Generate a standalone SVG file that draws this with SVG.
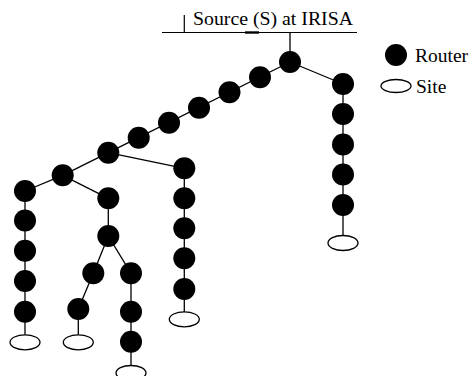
<svg xmlns="http://www.w3.org/2000/svg" width="474" height="376" viewBox="0 0 474 376">
<style>
.r{fill:#000}
.s{fill:#fff;stroke:#000;stroke-width:1.3}
.c line{stroke:#000;stroke-width:1.3}
.t{font-family:"Liberation Serif","Times New Roman",serif;font-size:19.5px;fill:#000}
</style>
<rect width="474" height="376" fill="#fff"/>
<g id="source">
<line x1="162" y1="32.5" x2="357" y2="32.5" stroke="#000" stroke-width="1.2"/>
<line x1="184.3" y1="15" x2="184.3" y2="32.5" stroke="#000" stroke-width="1.2"/>
<line x1="245" y1="32.5" x2="259" y2="32.5" stroke="#000" stroke-width="2.4"/>
<text class="t" x="193" y="25" textLength="160" lengthAdjust="spacingAndGlyphs">Source (S) at IRISA</text>
</g>
<g id="connectors" class="c">
<line x1="290" y1="32.5" x2="290" y2="62"/>
<line x1="290" y1="62" x2="343" y2="84"/>
<line x1="343" y1="84" x2="343" y2="243"/>
<line x1="290" y1="62" x2="108.3" y2="152.7"/>
<line x1="108.3" y1="152.7" x2="184.3" y2="168.3"/>
<line x1="184.3" y1="168.3" x2="184.3" y2="319.3"/>
<line x1="108.3" y1="152.7" x2="62.7" y2="175.3"/>
<line x1="62.7" y1="175.3" x2="25" y2="191"/>
<line x1="25" y1="191" x2="25" y2="342.3"/>
<line x1="62.7" y1="175.3" x2="108.3" y2="198.3"/>
<line x1="108.3" y1="198.3" x2="108.3" y2="236"/>
<line x1="108.3" y1="236" x2="93.3" y2="273.3"/>
<line x1="93.3" y1="273.3" x2="78.3" y2="309"/>
<line x1="78.3" y1="309" x2="78.3" y2="342.3"/>
<line x1="108.3" y1="236" x2="131" y2="273.3"/>
<line x1="131" y1="273.3" x2="131" y2="373"/>
</g>
<g id="n0"><circle class="r" cx="290" cy="62" r="11"/></g>
<g id="r1"><circle class="r" cx="343" cy="84" r="11"/></g>
<g id="r2"><circle class="r" cx="343" cy="114" r="11"/></g>
<g id="r3"><circle class="r" cx="343" cy="144.5" r="11"/></g>
<g id="r4"><circle class="r" cx="343" cy="174.5" r="11"/></g>
<g id="r5"><circle class="r" cx="343" cy="205" r="11"/></g>
<g id="siteR"><ellipse class="s" cx="343" cy="243" rx="15" ry="7.5"/></g>
<g id="d1"><circle class="r" cx="260" cy="77.3" r="11"/></g>
<g id="d2"><circle class="r" cx="229.5" cy="92.3" r="11"/></g>
<g id="d3"><circle class="r" cx="199" cy="107.7" r="11"/></g>
<g id="d4"><circle class="r" cx="169" cy="122.7" r="11"/></g>
<g id="d5"><circle class="r" cx="138.7" cy="137.7" r="11"/></g>
<g id="d6"><circle class="r" cx="108.3" cy="152.7" r="11"/></g>
<g id="m1"><circle class="r" cx="184.3" cy="168.3" r="11"/></g>
<g id="m2"><circle class="r" cx="184.3" cy="198.3" r="11"/></g>
<g id="m3"><circle class="r" cx="184.3" cy="228.3" r="11"/></g>
<g id="m4"><circle class="r" cx="184.3" cy="258.3" r="11"/></g>
<g id="m5"><circle class="r" cx="184.3" cy="289" r="11"/></g>
<g id="siteM"><ellipse class="s" cx="184.3" cy="319.3" rx="15" ry="7.5"/></g>
<g id="a"><circle class="r" cx="62.7" cy="175.3" r="11"/></g>
<g id="L1"><circle class="r" cx="25" cy="191" r="11"/></g>
<g id="L2"><circle class="r" cx="25" cy="220.5" r="11"/></g>
<g id="L3"><circle class="r" cx="25" cy="250.7" r="11"/></g>
<g id="L4"><circle class="r" cx="25" cy="281" r="11"/></g>
<g id="L5"><circle class="r" cx="25" cy="311.7" r="11"/></g>
<g id="siteL"><ellipse class="s" cx="25" cy="342.3" rx="15" ry="7.5"/></g>
<g id="b1"><circle class="r" cx="108.3" cy="198.3" r="11"/></g>
<g id="b2"><circle class="r" cx="108.3" cy="236" r="11"/></g>
<g id="c1"><circle class="r" cx="93.3" cy="273.3" r="11"/></g>
<g id="c2"><circle class="r" cx="78.3" cy="309" r="11"/></g>
<g id="siteC"><ellipse class="s" cx="78.3" cy="342.3" rx="15" ry="7.5"/></g>
<g id="e1"><circle class="r" cx="131" cy="273.3" r="11"/></g>
<g id="e2"><circle class="r" cx="131" cy="311.7" r="11"/></g>
<g id="e3"><circle class="r" cx="131" cy="341.7" r="11"/></g>
<g id="siteE"><ellipse class="s" cx="131" cy="373" rx="15" ry="7.5"/></g>
<g id="legend-router"><circle class="r" cx="396" cy="55" r="11"/><text class="t" x="415" y="62">Router</text></g>
<g id="legend-site"><ellipse class="s" cx="396" cy="86" rx="15" ry="6.5"/><text class="t" x="416" y="93">Site</text></g>
</svg>
